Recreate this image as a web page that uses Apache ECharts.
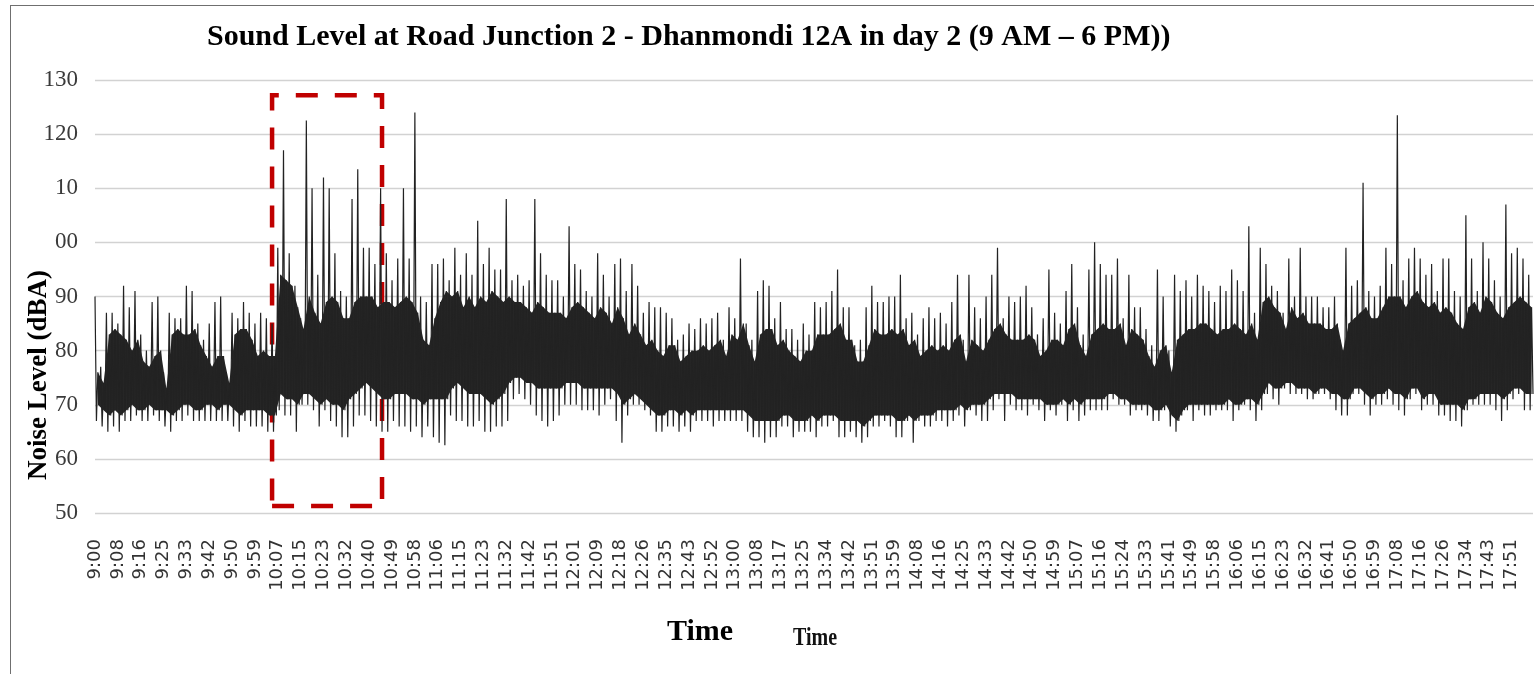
<!DOCTYPE html>
<html lang="en">
<head>
    <meta charset="UTF-8">
    <title>Sound Level - Dhanmondi 12A</title>
    <style>
        html, body {
            margin: 0;
            padding: 0;
            background: #ffffff;
        }

        #chart {
            width: 1534px;
            height: 674px;
        }

        /* thin frame round the figure */
        #frame {
            position: absolute;
            left: 10px;
            top: 5px;
            right: 0;
            bottom: 0;
            border-top: 1px solid #6f6f6f;
            border-left: 1px solid #6f6f6f;
            pointer-events: none;
        }
    </style>
</head>
<body>
<div id="chart"></div>
<div id="frame"></div>
<script src="https://cdn.jsdelivr.net/npm/echarts@6/dist/echarts.min.js"></script>
<script type="text/javascript">
    // tick labels shown under the axis
    const timeLabels = ['9:00', '9:08', '9:16', '9:25', '9:33', '9:42', '9:50', '9:59',
        '10:07', '10:15', '10:23', '10:32', '10:40', '10:49', '10:58',
        '11:06', '11:15', '11:23', '11:32', '11:42', '11:51',
        '12:01', '12:09', '12:18', '12:26', '12:35', '12:43', '12:52',
        '13:00', '13:08', '13:17', '13:25', '13:34', '13:42', '13:51', '13:59',
        '14:08', '14:16', '14:25', '14:33', '14:42', '14:50', '14:59',
        '15:07', '15:16', '15:24', '15:33', '15:41', '15:49', '15:58',
        '16:06', '16:15', '16:23', '16:32', '16:41', '16:50', '16:59',
        '17:08', '17:16', '17:26', '17:34', '17:43', '17:51'];

    // y tick labels as printed on the original (110 and 100 lost their first digit)
    const yTicks = [50, 60, 70, 80, 90, 100, 110, 120, 130];
    const yTickLabels = ['50', '60', '70', '80', '90', '00', '10', '120', '130'];

    // 4 readings per tick label; spike tops (dBA)
    const peaks = [
        90, 77, 87, 87, 85, 92, 88, 91,
        83, 80, 89, 90, 76, 87, 86, 86,
        92, 91, 85, 82, 85, 89, 90, 76,
        87, 86, 89, 87, 85, 87, 86, 85,
        99, 117, 98, 92, 86, 122.5, 110, 94,
        112, 110, 98, 91, 90, 108, 113.5, 99,
        99, 96, 110, 98, 93, 97, 110, 97,
        124, 90, 89, 96, 96, 97, 93, 99,
        94, 98, 94, 104, 96, 99, 95, 95,
        108, 93, 94, 92, 93, 108, 98, 94,
        93, 93, 90, 103, 96, 95, 91, 90,
        98, 94, 90, 96, 97, 91, 96, 92,
        87, 89, 88, 88, 87, 86, 82, 83,
        85, 84, 86, 85, 86, 87, 82, 88,
        86, 97, 85, 82, 91, 93, 92, 86,
        89, 84, 84, 82, 85, 83, 89, 88,
        89, 91, 95, 88, 88, 81, 82, 88,
        92, 89, 89, 90, 90, 94, 86, 87,
        83, 86, 88, 86, 87, 85, 89, 94,
        82, 94, 88, 86, 90, 94, 99, 86,
        90, 89, 90, 92, 88, 83, 86, 95,
        87, 85, 91, 96, 88, 83, 95, 100,
        96, 94, 94, 97, 86, 94, 88, 88,
        84, 81, 95, 90, 80, 94, 91, 93,
        90, 94, 92, 91, 89, 92, 91, 95,
        93, 91, 103, 87, 99, 96, 92, 91,
        87, 97, 90, 99, 90, 90, 90, 88,
        88, 90, 82, 99, 92, 93, 111, 91,
        90, 92, 99, 96, 123.5, 93, 97, 99,
        97, 94, 96, 91, 97, 97, 91, 90,
        105, 97, 91, 100, 97, 93, 90, 107,
        98, 99, 97, 94
    ];

    // dip bottoms, same readings
    const troughs = [
        67, 66, 65, 66, 65, 67, 67, 68,
        67, 67, 68, 67, 66, 65, 67, 67,
        68, 67, 67, 67, 67, 67, 67, 67,
        66, 65, 67, 66, 66, 66, 65, 65,
        69, 68, 68, 65, 70, 70, 69, 66,
        69, 67, 66, 64, 64, 66, 68, 68,
        67, 66, 65, 65, 67, 66, 66, 65,
        66, 64, 66, 64, 63, 62.5, 68, 67,
        67, 66, 66, 67, 65, 65, 66, 66,
        67, 71, 72, 71, 70, 68, 67, 66,
        67, 68, 70, 70, 70, 69, 69, 69,
        68, 70, 71, 67, 63, 68, 70, 70,
        69, 68, 65, 65, 66, 66, 65, 66,
        65, 67, 67, 67, 66, 67, 67, 67,
        67, 67, 65, 64, 64, 63, 64, 64,
        66, 66, 64, 65, 65, 65, 64, 66,
        66, 67, 64, 64, 65, 64, 63, 64,
        66, 66, 67, 66, 64, 64, 67, 63,
        67, 66, 66, 67, 67, 66, 67, 68,
        66, 69, 68, 67, 67, 69, 71, 67,
        70, 69, 69, 68, 70, 69, 67, 69,
        68, 70, 67, 69, 67, 68, 69, 69,
        69, 69, 71, 70, 70, 68, 69, 69,
        68, 67, 67, 69, 66, 65, 68, 69,
        67, 69, 68, 68, 69, 69, 69, 67,
        69, 70, 69, 67, 69, 72, 71, 70,
        73, 72, 72, 72, 71, 71, 72, 72,
        71, 69, 68, 68, 72, 72, 70, 68,
        70, 70, 71, 70, 69, 68, 71, 72,
        69, 70, 70, 68, 68, 67, 67, 66,
        69, 70, 70, 70, 70, 69, 67, 69,
        71, 72, 69, 69
    ];

    // upper edge of the dense part, same readings
    const coreHigh = [
        76, 74, 83, 84, 83, 82, 80, 82,
        78, 77, 79, 80, 73, 83, 84, 83,
        83, 84, 81, 79, 77, 79, 79, 74,
        83, 84, 84, 82, 79, 80, 79, 79,
        94, 93, 92, 88, 84, 90, 87, 85,
        89, 90, 89, 86, 86, 89, 90, 90,
        90, 88, 89, 89, 88, 89, 90, 89,
        87, 82, 81, 86, 89, 91, 90, 91,
        88, 90, 88, 90, 89, 91, 90, 89,
        90, 89, 89, 88, 87, 89, 88, 87,
        87, 87, 86, 88, 89, 88, 87, 86,
        88, 87, 85, 88, 86, 83, 85, 83,
        81, 82, 80, 79, 81, 81, 78, 79,
        80, 80, 81, 80, 81, 82, 79, 83,
        82, 85, 81, 78, 83, 84, 84, 81,
        82, 80, 79, 78, 80, 80, 83, 83,
        83, 84, 85, 82, 82, 78, 78, 81,
        84, 83, 83, 84, 83, 84, 81, 82,
        79, 80, 81, 80, 81, 80, 82, 83,
        78, 82, 81, 80, 82, 84, 85, 83,
        82, 82, 82, 83, 82, 79, 80, 82,
        82, 81, 84, 85, 81, 79, 83, 84,
        85, 84, 84, 85, 81, 84, 83, 82,
        79, 77, 80, 81, 76, 82, 83, 84,
        84, 85, 85, 84, 83, 84, 84, 85,
        84, 83, 85, 82, 89, 90, 88, 87,
        84, 88, 86, 87, 85, 85, 85, 84,
        84, 85, 80, 85, 86, 87, 88, 86,
        86, 88, 90, 90, 90, 88, 90, 91,
        89, 88, 89, 87, 88, 87, 85, 84,
        88, 89, 87, 90, 89, 87, 86, 88,
        89, 90, 89, 88
    ];

    // lower edge of the dense part, same readings
    const coreLow = [
        70, 69, 68, 69, 68, 69, 70, 69,
        69, 70, 69, 69, 69, 68, 69, 70,
        70, 69, 69, 70, 70, 69, 70, 70,
        69, 68, 69, 69, 69, 69, 68, 68,
        72, 71, 71, 70, 72, 72, 71, 70,
        71, 70, 70, 69, 71, 72, 73, 74,
        73, 72, 71, 71, 72, 72, 72, 71,
        71, 70, 71, 71, 71, 71, 73, 74,
        73, 72, 72, 72, 71, 70, 71, 72,
        74, 75, 75, 74, 74, 73, 73, 73,
        73, 73, 74, 74, 74, 73, 73, 73,
        73, 73, 73, 72, 70, 71, 72, 71,
        70, 69, 68, 68, 69, 69, 68, 69,
        68, 69, 69, 69, 69, 69, 69, 69,
        69, 69, 68, 67, 67, 67, 67, 67,
        68, 68, 67, 67, 67, 68, 67, 68,
        68, 68, 67, 67, 67, 67, 66, 67,
        68, 68, 68, 68, 67, 67, 68, 67,
        68, 68, 68, 69, 69, 69, 69, 70,
        69, 70, 70, 70, 71, 72, 72, 72,
        72, 71, 71, 71, 71, 71, 70, 70,
        70, 71, 70, 71, 70, 71, 71, 71,
        71, 72, 72, 71, 71, 70, 70, 70,
        70, 69, 69, 70, 68, 67, 69, 70,
        70, 70, 70, 70, 70, 70, 71, 70,
        70, 71, 71, 70, 72, 74, 73, 73,
        74, 74, 73, 73, 73, 72, 73, 73,
        72, 72, 71, 71, 73, 73, 72, 71,
        72, 72, 73, 72, 72, 71, 73, 73,
        71, 72, 72, 70, 70, 70, 70, 69,
        71, 71, 72, 72, 72, 72, 71, 72,
        73, 73, 72, 72
    ];

    // highlighted window (sample index / dBA)
    const boxFrom = [124, 51.3];
    const boxTo = [201, 127.2];

    const perReading = 4;
    const perLabel = 16;

    // each reading swings top -> bottom -> dense top -> dense bottom, like the raw trace
    let levels = [];
    for (let i = 0; i < peaks.length; i++) {
        levels.push(peaks[i], troughs[i], coreHigh[i], coreLow[i]);
    }
    let categories = levels.map((v, i) => {
        let t = timeLabels[Math.floor(i / perLabel)];
        return i % perLabel === 0 ? t : t + '.' + (i % perLabel);
    });
    // solid dense band, one point per reading (stacked: base + thickness)
    let bandBase = coreLow.map((v, i) => [i * perReading + 2, v]);
    let bandSpan = coreHigh.map((v, i) => [i * perReading + 2, v - coreLow[i]]);

    let myChart = echarts.init(document.getElementById('chart'));
    myChart.setOption({
        animation: false,
        title: {
            text: 'Sound Level at Road Junction 2 - Dhanmondi 12A in day 2 (9 AM \u2013 6 PM))',
            left: 207,
            top: 22,
            padding: 0,
            textStyle: {
                fontFamily: 'Liberation Serif',
                fontWeight: 'bold',
                fontSize: 30,
                color: '#000'
            }
        },
        grid: {
            left: 95,
            right: 1,
            top: 80,
            bottom: 161,
            containLabel: false
        },
        xAxis: {
            type: 'category',
            data: categories,
            boundaryGap: false,
            axisLine: {show: false},
            axisTick: {show: false},
            splitLine: {show: false},
            axisLabel: {
                interval: perLabel - 1,
                rotate: 90,
                margin: 26,
                fontFamily: 'DejaVu Sans',
                fontSize: 18,
                color: '#333'
            }
        },
        yAxis: {
            type: 'value',
            min: 50,
            max: 130,
            interval: 10,
            axisLine: {show: false},
            axisTick: {show: false},
            axisLabel: {
                margin: 17,
                fontFamily: 'Liberation Serif',
                fontSize: 23,
                color: '#3a3a3a',
                formatter: v => yTickLabels[yTicks.indexOf(v)]
            },
            splitLine: {
                lineStyle: {color: '#d2d2d2', width: 1.3}
            }
        },
        graphic: [
            {
                type: 'text',
                x: 39,
                y: 375,
                rotation: Math.PI / 2,
                style: {
                    text: 'Noise Level (dBA)',
                    fontFamily: 'Liberation Serif',
                    fontWeight: 'bold',
                    fontSize: 27,
                    fill: '#000',
                    textAlign: 'center',
                    textVerticalAlign: 'middle'
                }
            },
            {
                type: 'text',
                x: 700,
                y: 632,
                style: {
                    text: 'Time',
                    fontFamily: 'Liberation Serif',
                    fontWeight: 'bold',
                    fontSize: 30,
                    fill: '#000',
                    textAlign: 'center',
                    textVerticalAlign: 'middle'
                }
            },
            {
                type: 'text',
                x: 815,
                y: 638,
                scaleY: 1.3,
                style: {
                    text: 'Time',
                    fontFamily: 'Liberation Serif',
                    fontWeight: 'bold',
                    fontSize: 20,
                    fill: '#111',
                    textAlign: 'center',
                    textVerticalAlign: 'middle'
                }
            }
        ],
        series: [
            {
                name: 'band base',
                type: 'line',
                stack: 'band',
                data: bandBase,
                symbol: 'none',
                silent: true,
                z: 1,
                lineStyle: {width: 0, opacity: 0}
            },
            {
                name: 'band',
                type: 'line',
                stack: 'band',
                data: bandSpan,
                symbol: 'none',
                silent: true,
                z: 1,
                lineStyle: {width: 0, opacity: 0},
                areaStyle: {color: '#262626', opacity: 1}
            },
            {
                name: 'Noise Level',
                type: 'line',
                data: levels,
                symbol: 'none',
                sampling: null,
                z: 2,
                lineStyle: {color: '#222', width: 1.2}
            },
            {
                name: 'box',
                type: 'line',
                data: [],
                z: 5,
                markArea: {
                    silent: true,
                    itemStyle: {
                        color: 'rgba(0,0,0,0)',
                        borderColor: '#c00000',
                        borderWidth: 4.5,
                        borderType: [22, 17]
                    },
                    data: [[
                        {xAxis: boxFrom[0], yAxis: boxFrom[1]},
                        {xAxis: boxTo[0], yAxis: boxTo[1]}
                    ]]
                }
            }
        ]
    });
</script>
</body>
</html>
